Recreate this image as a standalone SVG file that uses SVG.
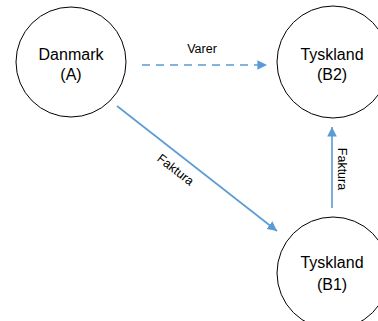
<svg xmlns="http://www.w3.org/2000/svg" width="378" height="321" viewBox="0 0 378 321">
<style>
.node{fill:#fff;stroke:#000;stroke-width:1}
.nt{font-family:"Liberation Sans",Arial,sans-serif;font-size:16px;fill:#000;text-anchor:middle}
.lt{font-family:"Liberation Sans",Arial,sans-serif;font-size:12.5px;fill:#000;text-anchor:middle}
.c{stroke:#5B9BD5;stroke-width:1.6;fill:none}
</style>
<defs>
<marker id="ah" viewBox="0 0 10 10" refX="10" refY="5" markerWidth="6" markerHeight="6" markerUnits="strokeWidth" orient="auto">
<path d="M0,0 L10,5 L0,10 Z" fill="#5B9BD5"/>
</marker>
</defs>
<rect width="378" height="321" fill="#fff"/>
<g id="nodeA">
<circle class="node" cx="71" cy="62" r="55"/>
<text class="nt" x="71" y="60">Danmark</text>
<text class="nt" x="71" y="80">(A)</text>
</g>
<g id="nodeB2">
<circle class="node" cx="333" cy="62" r="56"/>
<text class="nt" x="332" y="60">Tyskland</text>
<text class="nt" x="332" y="80">(B2)</text>
</g>
<g id="nodeB1">
<circle class="node" cx="333" cy="273" r="56"/>
<text class="nt" x="332" y="268">Tyskland</text>
<text class="nt" x="332" y="290">(B1)</text>
</g>
<g id="connectors">
<line class="c" x1="142" y1="65" x2="267" y2="65" stroke-dasharray="8,6" marker-end="url(#ah)"/>
<line class="c" x1="117" y1="106" x2="277" y2="231" marker-end="url(#ah)"/>
<line class="c" x1="332" y1="208" x2="332" y2="127" marker-end="url(#ah)"/>
<text class="lt" x="202" y="53">Varer</text>
<text class="lt" transform="translate(173,173) rotate(38)">Faktura</text>
<text class="lt" transform="translate(338,169) rotate(90)">Faktura</text>
</g>
</svg>
